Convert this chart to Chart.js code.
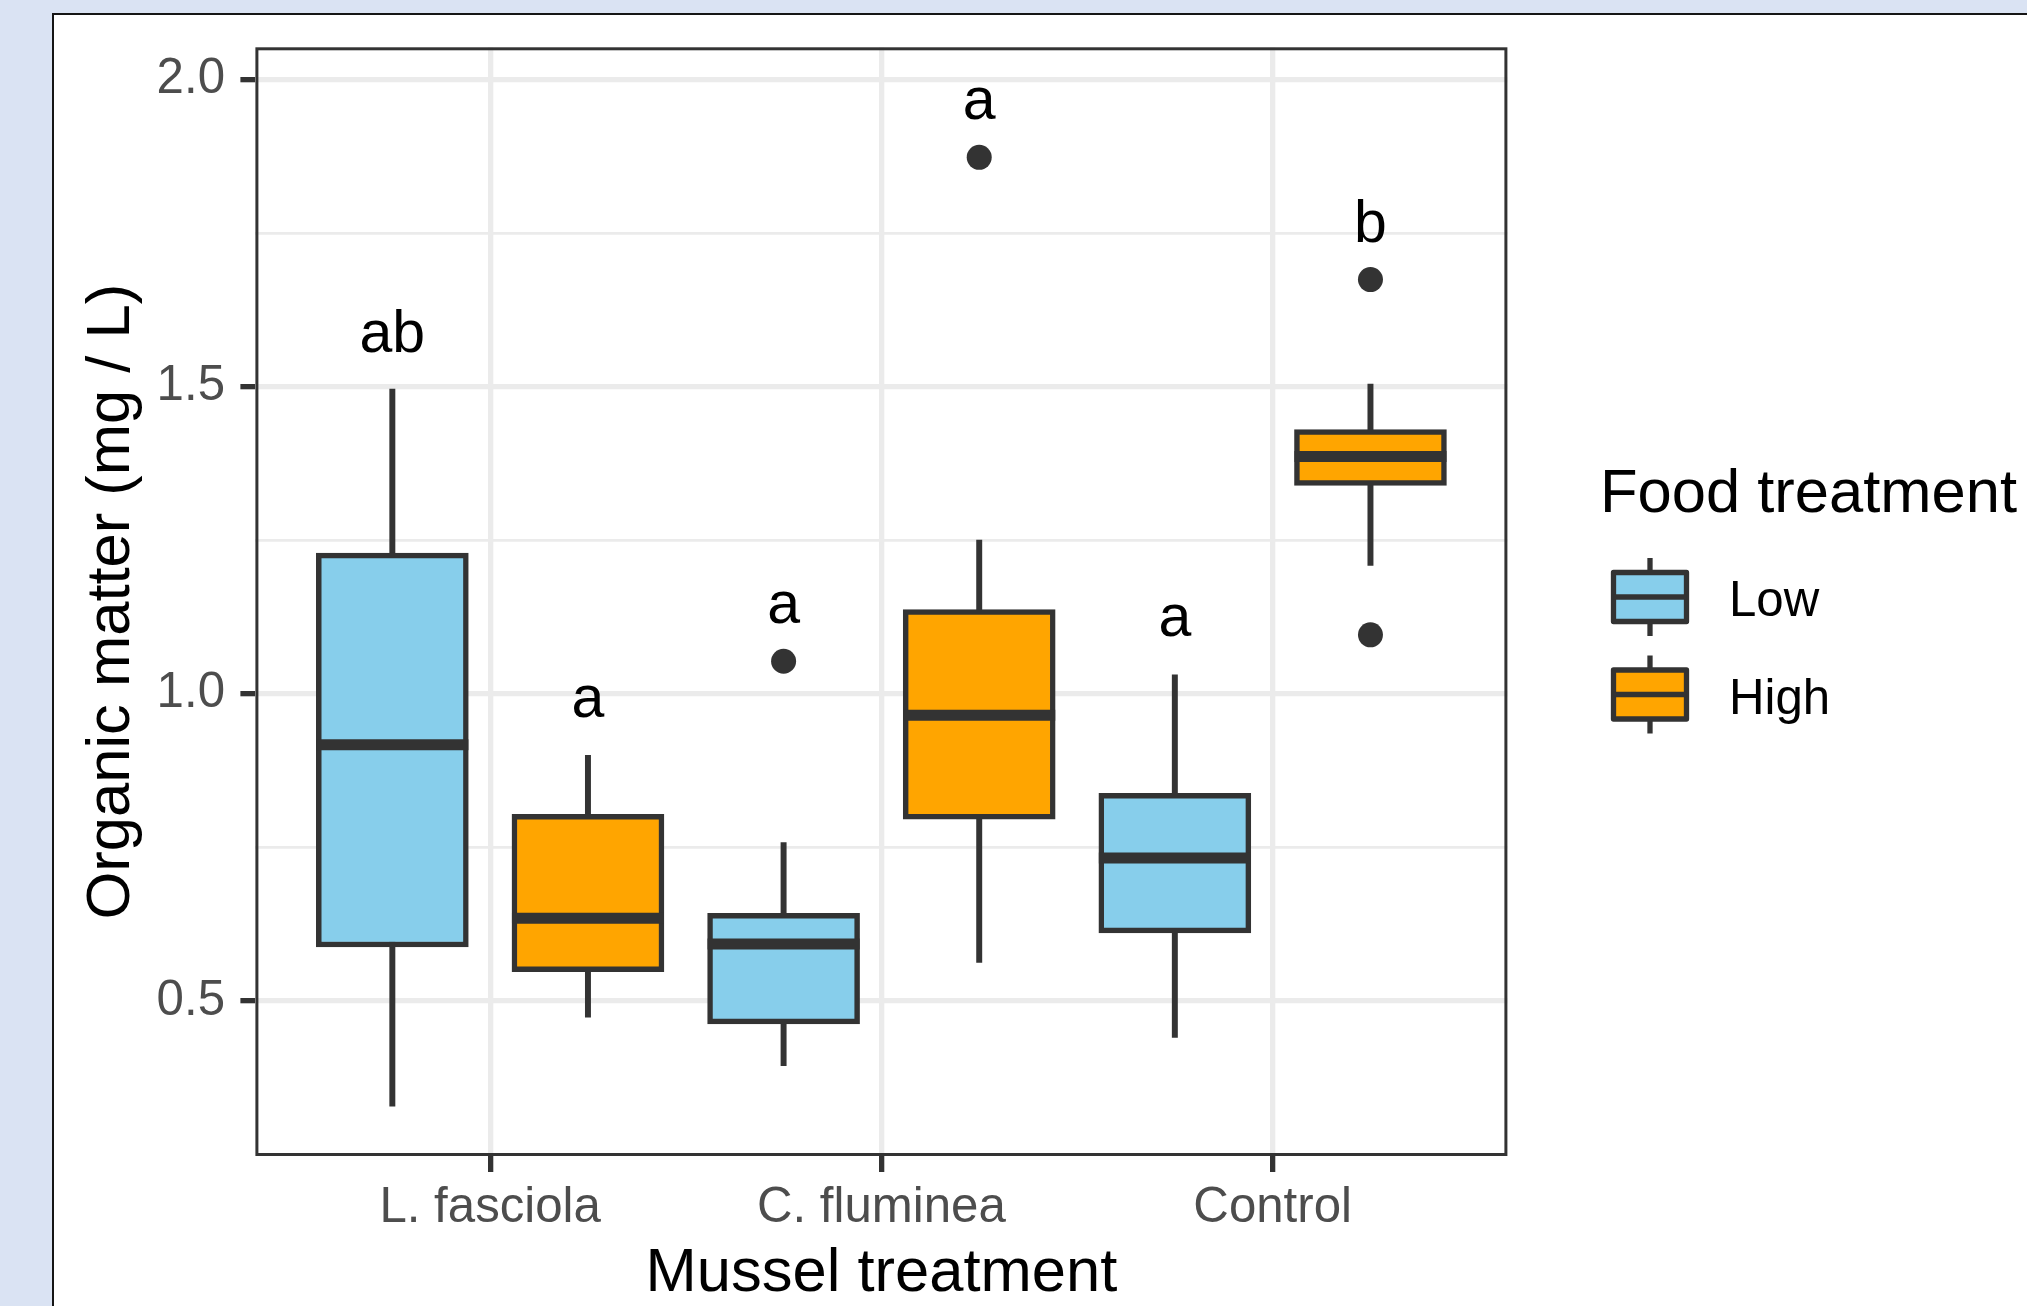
<!DOCTYPE html>
<html>
<head>
<meta charset="utf-8">
<title>Organic matter by mussel and food treatment</title>
<script src="https://cdn.jsdelivr.net/npm/chart.js@4.4.1/dist/chart.umd.min.js"></script>
<style>
  html, body { margin: 0; padding: 0; }
  body { width: 2027px; height: 1306px; background: #dae3f3; overflow: hidden; position: relative; }
  #frame { position: absolute; left: 52px; top: 13px; width: 2000px; height: 1310px; background: #fff;
           border-left: 2px solid #151515; border-top: 2px solid #151515; }
  #wrap { position: absolute; left: 0; top: 0; width: 2027px; height: 1306px; }
</style>
</head>
<body>
<div id="frame"></div>
<div id="wrap"><canvas id="boxChart"></canvas></div>
<script>
// Organic matter (mg / L) by mussel treatment, split by food treatment - boxplots

const musselTreatments = ["L. fasciola", "C. fluminea", "Control"];
const foodTreatments = ["Low", "High"];

// Low food: five-number summaries per mussel treatment
const lowMin = [0.329, 0.395, 0.441];
const lowQ1 = [0.588, 0.463, 0.611];
const lowMedian = [0.917, 0.593, 0.733];
const lowQ3 = [1.229, 0.643, 0.838];
const lowMax = [1.496, 0.758, 1.031];
const lowOutliers = [[], [1.053], []];

// High food
const highMin = [0.474, 0.563, 1.209];
const highQ1 = [0.548, 0.796, 1.339];
const highMedian = [0.635, 0.965, 1.386];
const highQ3 = [0.804, 1.137, 1.430];
const highMax = [0.900, 1.250, 1.504];
const highOutliers = [[], [1.873], [1.674, 1.096]];

// significance letters and the height of their baseline
const lowLetters = ["ab", "a", "a"];
const lowLetterY = [1.557, 1.116, 1.094];
const highLetters = ["a", "a", "b"];
const highLetterY = [0.963, 1.935, 1.736];

// axes
const yMajorTicks = [0.5, 1.0, 1.5, 2.0];
const yMinorTicks = [0.75, 1.25, 1.75];
const yLimits = [0.248, 2.052];
const xLimits = [0.4, 3.6];

const fillColors = ["#87ceeb", "#ffa500"];
const lineColor = "#333333";
const dodge = 0.25;
const fontFamily = '"Liberation Sans", Arial, Helvetica, sans-serif';

Chart.defaults.font.family = fontFamily;

const groups = [
  { min: lowMin, q1: lowQ1, med: lowMedian, q3: lowQ3, max: lowMax, out: lowOutliers, letters: lowLetters, letterY: lowLetterY },
  { min: highMin, q1: highQ1, med: highMedian, q3: highQ3, max: highMax, out: highOutliers, letters: highLetters, letterY: highLetterY }
];

function xPos(i, f) {
  return i + 1 + (f === 0 ? -dodge : dodge);
}

// build datasets: whiskers under boxes, medians and outliers on top
const datasets = [];
groups.forEach((g, f) => {
  datasets.push({
    type: "bar",
    label: foodTreatments[f] + " whisker",
    data: musselTreatments.map((m, i) => ({ x: xPos(i, f), y: [g.min[i], g.max[i]] })),
    backgroundColor: lineColor,
    borderWidth: 0,
    barThickness: 5.3,
    grouped: false,
    order: 4
  });
  datasets.push({
    type: "bar",
    label: foodTreatments[f],
    data: musselTreatments.map((m, i) => ({ x: xPos(i, f), y: [g.q1[i], g.q3[i]] })),
    backgroundColor: fillColors[f],
    borderColor: lineColor,
    borderWidth: 5.5,
    borderSkipped: false,
    barThickness: 152,
    grouped: false,
    order: 3
  });
  datasets.push({
    type: "scatter",
    label: foodTreatments[f] + " median",
    data: musselTreatments.map((m, i) => ({ x: xPos(i, f), y: g.med[i] })),
    pointStyle: "line",
    pointRadius: 76,
    pointBorderWidth: 11,
    pointBorderColor: lineColor,
    order: 2
  });
  const outPoints = [];
  g.out.forEach((vals, i) => vals.forEach(v => outPoints.push({ x: xPos(i, f), y: v })));
  datasets.push({
    type: "scatter",
    label: foodTreatments[f] + " outliers",
    data: outPoints,
    pointRadius: 12.5,
    pointBackgroundColor: lineColor,
    pointBorderWidth: 0,
    order: 1
  });
});

// panel border and letters above each box
const panelExtras = {
  id: "panelExtras",
  afterDatasetsDraw(chart) {
    const { ctx, chartArea, scales } = chart;
    ctx.save();
    ctx.font = "59px " + fontFamily;
    ctx.fillStyle = "#000";
    ctx.textAlign = "center";
    ctx.textBaseline = "alphabetic";
    groups.forEach((g, f) => {
      g.letters.forEach((txt, i) => {
        ctx.fillText(txt, scales.x.getPixelForValue(xPos(i, f)), scales.y.getPixelForValue(g.letterY[i]));
      });
    });
    ctx.strokeStyle = lineColor;
    ctx.lineWidth = 3;
    ctx.strokeRect(chartArea.left + 1.5, chartArea.top + 1.5, chartArea.width - 3, chartArea.height - 3);
    ctx.restore();
  }
};

// legend with boxplot glyphs
const foodLegend = {
  id: "foodLegend",
  afterDraw(chart) {
    const ctx = chart.ctx;
    ctx.save();
    ctx.fillStyle = "#000";
    ctx.textBaseline = "alphabetic";
    ctx.textAlign = "left";
    ctx.font = "61.5px " + fontFamily;
    ctx.fillText("Food treatment", 1600, 511.5);

    foodTreatments.forEach((name, f) => {
      const cy = 597 + f * 97.5;
      const cx = 1650;
      ctx.strokeStyle = lineColor;
      ctx.lineWidth = 5.3;
      ctx.lineJoin = "round";
      ctx.beginPath();
      ctx.moveTo(cx, cy - 39);
      ctx.lineTo(cx, cy + 39);
      ctx.stroke();
      ctx.fillStyle = fillColors[f];
      ctx.fillRect(1613.5, cy - 24.5, 73, 49);
      ctx.strokeRect(1613.5, cy - 24.5, 73, 49);
      ctx.beginPath();
      ctx.moveTo(1613.5, cy);
      ctx.lineTo(1686.5, cy);
      ctx.stroke();
      ctx.fillStyle = "#000";
      ctx.font = "49.2px " + fontFamily;
      ctx.fillText(name, 1729, cy + 19);
    });
    ctx.restore();
  }
};

const ctxBox = document.getElementById("boxChart").getContext("2d");
new Chart(ctxBox, {
  type: "bar",
  data: { datasets: datasets },
  options: {
    responsive: true,
    maintainAspectRatio: false,
    animation: false,
    events: [],
    layout: { autoPadding: false, padding: { left: 0, top: 47.3, right: 519.6, bottom: 0 } },
    plugins: {
      legend: { display: false },
      tooltip: { enabled: false }
    },
    scales: {
      x: {
        type: "linear",
        min: xLimits[0],
        max: xLimits[1],
        offset: false,
        afterBuildTicks: axis => { axis.ticks = musselTreatments.map((m, i) => ({ value: i + 1 })); },
        afterFit: axis => { axis.height = 150; },
        ticks: {
          callback: v => musselTreatments[Math.round(v) - 1] || "",
          color: "#4d4d4d",
          font: { size: 49.2 },
          padding: 7,
          autoSkip: false,
          maxRotation: 0
        },
        grid: { color: "#ebebeb", lineWidth: 5.3, offset: false, tickColor: lineColor, tickWidth: 5.3, tickLength: 16 },
        border: { display: false },
        title: { display: true, text: "Mussel treatment", color: "#000", font: { size: 61.5 }, padding: { top: 0, bottom: -5 } }
      },
      y: {
        type: "linear",
        min: yLimits[0],
        max: yLimits[1],
        beginAtZero: false,
        afterBuildTicks: axis => {
          axis.ticks = yMinorTicks.concat(yMajorTicks).sort((a, b) => a - b).map(v => ({ value: v }));
        },
        afterFit: axis => { axis.width = 255.4; },
        ticks: {
          callback: v => yMajorTicks.includes(v) ? v.toFixed(1) : "",
          color: "#4d4d4d",
          font: { size: 49.2 },
          padding: 15.4,
          autoSkip: false
        },
        grid: {
          color: "#ebebeb",
          lineWidth: c => (c.tick && yMajorTicks.includes(c.tick.value)) ? 5.3 : 2.65,
          tickColor: c => (c.tick && yMajorTicks.includes(c.tick.value)) ? lineColor : "rgba(0,0,0,0)",
          tickWidth: 5.3,
          tickLength: 15
        },
        border: { display: false },
        title: { display: true, text: "Organic matter (mg / L)", color: "#000", font: { size: 61.5 }, padding: { top: 75, bottom: 0 } }
      }
    }
  },
  plugins: [panelExtras, foodLegend]
});
</script>
</body>
</html>
